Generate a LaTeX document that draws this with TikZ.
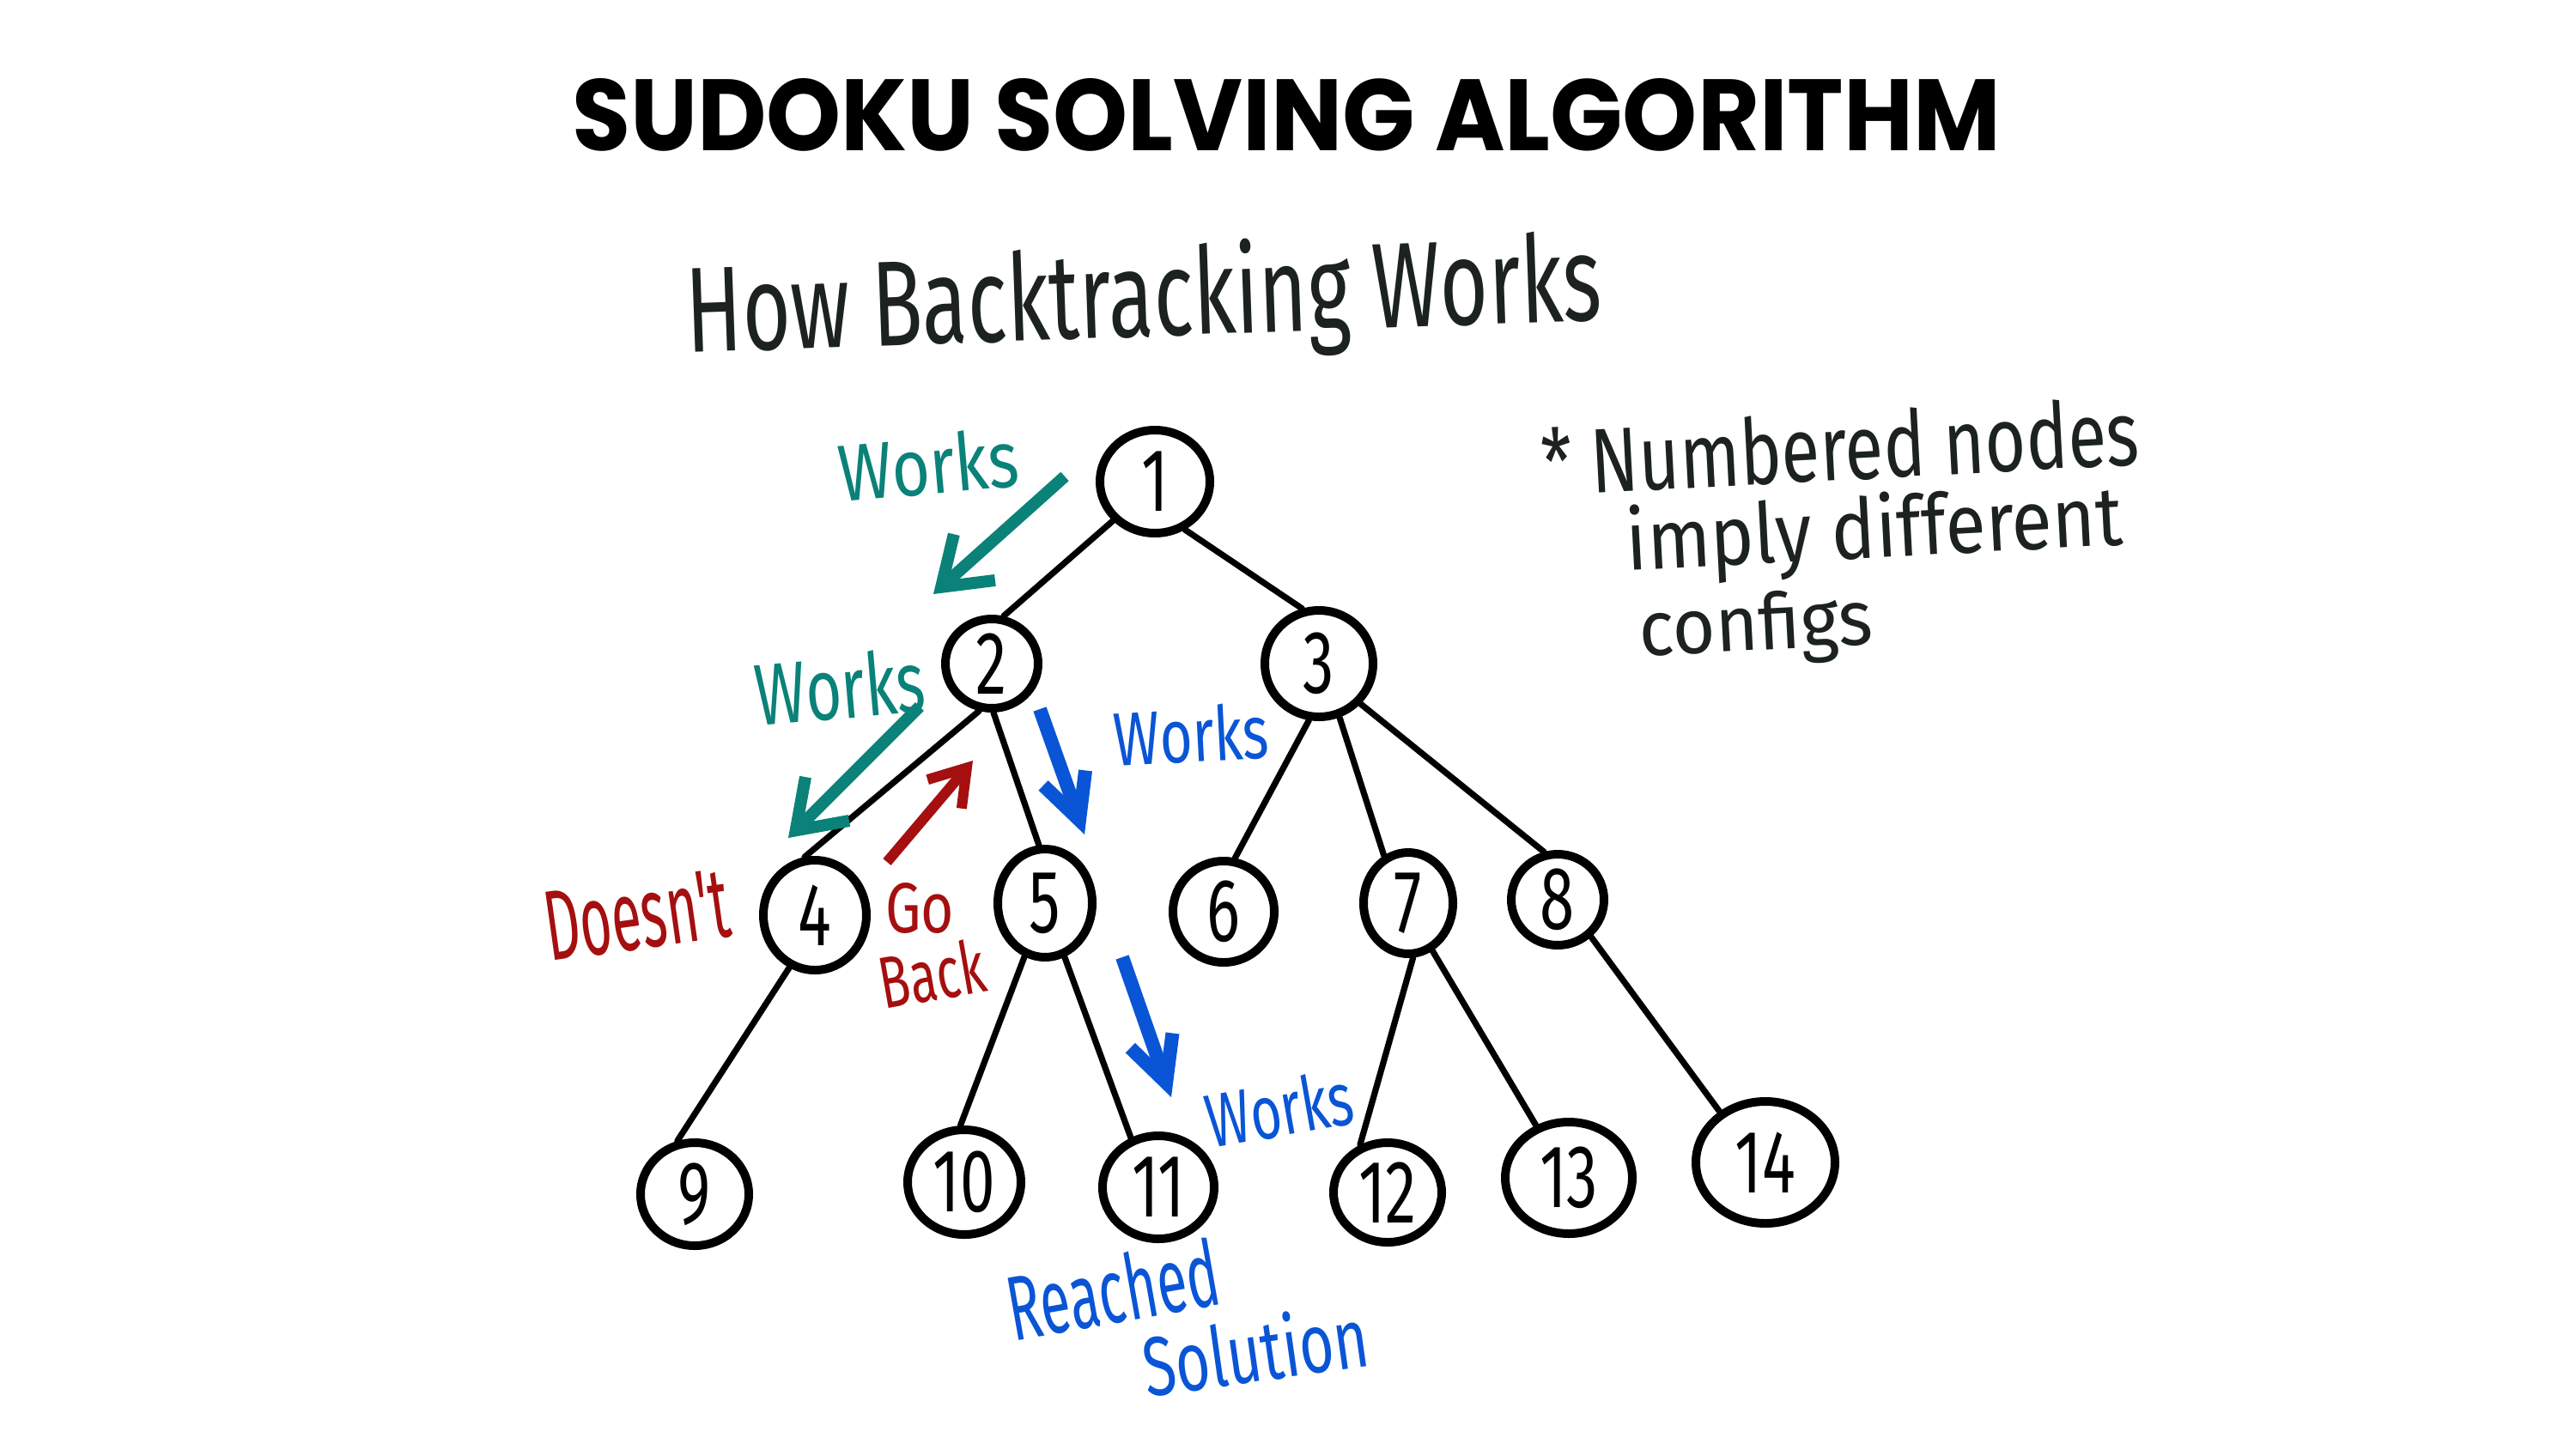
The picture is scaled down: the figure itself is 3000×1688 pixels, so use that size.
\documentclass[tikz,border=0pt]{standalone}
\usepackage{fontspec}
\usepackage{graphicx}
\usetikzlibrary{shapes.geometric,arrows.meta}
\newfontfamily\titlefont{Poppins}
\newfontfamily\hand{Fira Sans}
\newfontfamily\digitfont{Fira Sans}[FakeStretch=0.7]
\definecolor{tealink}{HTML}{0A8279}
\definecolor{redink}{HTML}{A50F0F}
\definecolor{blueink}{HTML}{0A55D6}
\definecolor{darkink}{HTML}{1C2220}
\tikzset{
  nd/.style={ellipse, draw=black, line width=5pt, inner sep=0pt, font=\digitfont\fontsize{52}{56}\selectfont},
  link/.style={draw=black, line width=3.6pt, line cap=round},
  tealarrow/.style={draw=tealink, line width=7pt, -{Straight Barb[length=26pt,width=36pt]}},
  redarrow/.style={draw=redink, line width=6pt, -{Straight Barb[length=20pt,width=26pt]}},
  bluearrow/.style={draw=blueink, line width=8pt, -{Straight Barb[length=26pt,width=26pt]}},
  handtext/.style={inner sep=0pt},
}
\begin{document}
\begin{tikzpicture}[x=0.5pt,y=-0.5pt]
\fill[white] (0,0) rectangle (3000,1688);
\useasboundingbox (0,0) rectangle (3000,1688);

% titles
\node[handtext] (title) at (1498,134) {\resizebox{832pt}{42pt}{\titlefont\bfseries SUDOKU SOLVING ALGORITHM}};
\node[handtext, text=darkink, rotate=2] (sub) at (1332,352) {\resizebox{533pt}{55pt}{\hand How Backtracking Works}};

% note
\node[handtext, text=darkink, rotate=3] (note1) at (2143,520) {\resizebox{348pt}{40pt}{\hand * Numbered nodes}};
\node[handtext, text=darkink, rotate=3] (note2) at (2183,622) {\resizebox{289pt}{38pt}{\hand imply different}};
\node[handtext, text=darkink, rotate=3] (note3) at (2045,733) {\resizebox{136pt}{34pt}{\hand configs}};

% tree nodes
\node[nd, minimum width=64pt, minimum height=60pt] (n1) at (1345,561) {1};
\node[nd, minimum width=54pt, minimum height=52pt] (n2) at (1155,773) {2};
\node[nd, minimum width=63pt, minimum height=62pt] (n3) at (1536,773) {3};
\node[nd, minimum width=60pt, minimum height=64pt] (n4) at (949,1066) {4};
\node[nd, minimum width=55pt, minimum height=63pt] (n5) at (1217,1052) {5};
\node[nd, minimum width=59pt, minimum height=59pt] (n6) at (1425,1062) {6};
\node[nd, minimum width=52pt, minimum height=59pt] (n7) at (1640,1052) {7};
\node[nd, minimum width=54pt, minimum height=53pt] (n8) at (1814,1048) {8};
\node[nd, minimum width=63pt, minimum height=60pt] (n9) at (809,1391) {9};
\node[nd, minimum width=66pt, minimum height=61pt] (n10) at (1123,1377) {10};
\node[nd, minimum width=65pt, minimum height=60pt] (n11) at (1349,1383) {11};
\node[nd, minimum width=63pt, minimum height=58pt] (n12) at (1616,1389) {12};
\node[nd, minimum width=74pt, minimum height=65pt] (n13) at (1827,1372) {13};
\node[nd, minimum width=81pt, minimum height=71pt] (n14) at (2056,1354) {14};

% edges
\draw[link] (n1.223) -- (n2.76);
\draw[link] (n1.302) -- (n3.107);
\draw[link] (n2.255) -- (n4.100);
\draw[link] (n2.272) -- (n5.96);
\draw[link] (n3.260) -- (n6.78);
\draw[link] (n3.291) -- (n7.117);
\draw[link] (n3.316) -- (n8.106);
\draw[link] (n4.244) -- (n9.108);
\draw[link] (n5.249) -- (n10.94);
\draw[link] (n5.290) -- (n11.119);
\draw[link] (n7.275) -- (n12.120);
\draw[link] (n7.297) -- (n13.122);
\draw[link] (n8.312) -- (n14.132);

% annotation arrows
\coordinate (ta1s) at (1240,555);
\coordinate (ta1e) at (1087,692);
\coordinate (ta2s) at (1071,823);
\coordinate (ta2e) at (918,976);
\coordinate (ras) at (1033,1004);
\coordinate (rae) at (1133,886);
\coordinate (ba1s) at (1211,826);
\coordinate (ba1e) at (1263,972);
\coordinate (ba2s) at (1307,1115);
\coordinate (ba2e) at (1364,1278);
\draw[tealarrow] (ta1s) -- (ta1e);
\draw[tealarrow] (ta2s) -- (ta2e);
\draw[redarrow] (ras) -- (rae);
\draw[bluearrow] (ba1s) -- (ba1e);
\draw[bluearrow] (ba2s) -- (ba2e);

% annotation labels
\node[handtext, text=tealink, rotate=5] (w1) at (1081,541) {\resizebox{105pt}{35pt}{\hand Works}};
\node[handtext, text=tealink, rotate=5] (w2) at (978,800) {\resizebox{99pt}{38pt}{\hand Works}};
\node[handtext, text=blueink, rotate=3] (w3) at (1387,855) {\resizebox{90pt}{33pt}{\hand Works}};
\node[handtext, text=blueink, rotate=10] (w4) at (1490,1291) {\resizebox{86pt}{33pt}{\hand Works}};
\node[handtext, text=blueink, rotate=10] (rs) at (1296,1502) {\resizebox{124pt}{40pt}{\hand Reached}};
\node[handtext, text=blueink, rotate=8] (sl) at (1462,1572) {\resizebox{132pt}{38pt}{\hand Solution}};
\node[handtext, text=redink, rotate=8] (dn) at (742,1066) {\resizebox{108pt}{40pt}{\hand Doesn't}};
\node[handtext, text=redink] (go) at (1071,1058) {\resizebox{40pt}{29pt}{\hand Go}};
\node[handtext, text=redink, rotate=10] (bk) at (1085,1134) {\resizebox{62pt}{32pt}{\hand Back}};
\end{tikzpicture}
\end{document}
